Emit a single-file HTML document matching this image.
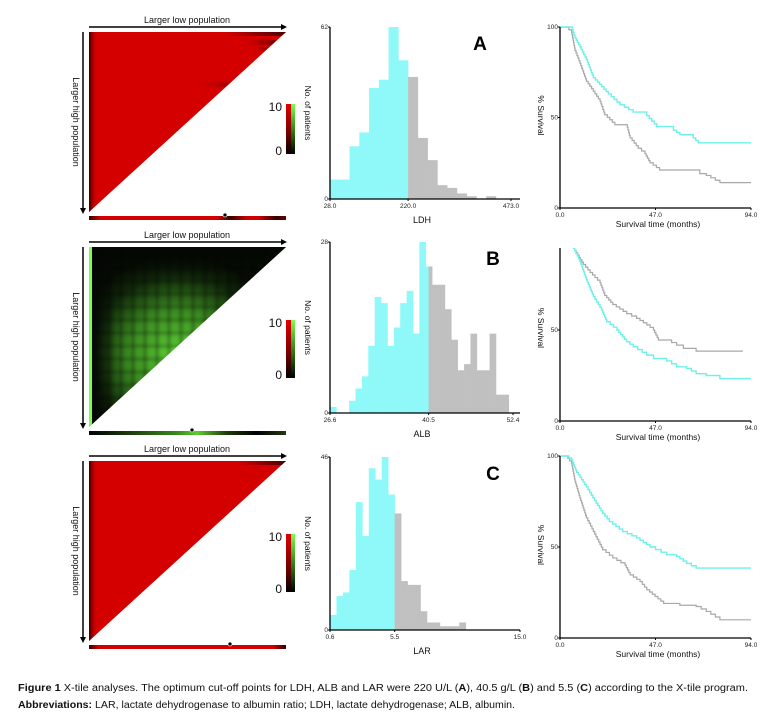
<!DOCTYPE html>
<html><head><meta charset="utf-8"><style>
body{margin:0;background:#fff;width:782px;height:719px;overflow:hidden}
svg{display:block;font-family:"Liberation Sans",sans-serif}
</style></head><body>
<svg id="fig" width="782" height="719" viewBox="0 0 782 719" xmlns="http://www.w3.org/2000/svg">
<defs>
 <linearGradient id="cbRed" x1="0" y1="0" x2="0" y2="1"><stop offset="0" stop-color="#e00000"/><stop offset="0.6" stop-color="#700000"/><stop offset="1" stop-color="#000"/></linearGradient>
 <linearGradient id="cbGreen" x1="0" y1="0" x2="0" y2="1"><stop offset="0" stop-color="#7cff4c"/><stop offset="0.6" stop-color="#2a6a10"/><stop offset="1" stop-color="#000"/></linearGradient>
 <linearGradient id="leftDark" x1="0" y1="0" x2="1" y2="0"><stop offset="0" stop-color="#200000" stop-opacity="0.9"/><stop offset="1" stop-color="#d40000" stop-opacity="0"/></linearGradient>
 <linearGradient id="topDarkA" x1="0" y1="0" x2="1" y2="0"><stop offset="0.3" stop-color="#300000" stop-opacity="0"/><stop offset="1" stop-color="#300000" stop-opacity="0.85"/></linearGradient>
 <linearGradient id="streak" x1="0" y1="0" x2="1" y2="0"><stop offset="0" stop-color="#300000" stop-opacity="0"/><stop offset="1" stop-color="#300000" stop-opacity="0.85"/></linearGradient>
 <radialGradient id="greenGlow" cx="0.45" cy="0.6" r="0.55"><stop offset="0" stop-color="#5ed236"/><stop offset="0.45" stop-color="#3a8a20"/><stop offset="0.8" stop-color="#10260a"/><stop offset="1" stop-color="#060d03"/></radialGradient>
 <linearGradient id="topDarkB" x1="0" y1="0" x2="0" y2="1"><stop offset="0" stop-color="#030602" stop-opacity="0.95"/><stop offset="1" stop-color="#030602" stop-opacity="0"/></linearGradient>
 <linearGradient id="leftDarkB" x1="0" y1="0" x2="1" y2="0"><stop offset="0" stop-color="#030602" stop-opacity="0.9"/><stop offset="1" stop-color="#030602" stop-opacity="0"/></linearGradient>
 <linearGradient id="barA" x1="0" y1="0" x2="1" y2="0"><stop offset="0" stop-color="#300"/><stop offset="0.06" stop-color="#d40000"/><stop offset="0.65" stop-color="#d40000"/><stop offset="0.72" stop-color="#300"/><stop offset="0.8" stop-color="#c00"/><stop offset="0.86" stop-color="#c00"/><stop offset="0.95" stop-color="#300"/><stop offset="1" stop-color="#600"/></linearGradient>
 <linearGradient id="barB" x1="0" y1="0" x2="1" y2="0"><stop offset="0" stop-color="#000"/><stop offset="0.2" stop-color="#1c3a0c"/><stop offset="0.45" stop-color="#3a8a1c"/><stop offset="0.55" stop-color="#5fcc30"/><stop offset="0.7" stop-color="#1c3a0c"/><stop offset="0.85" stop-color="#000"/><stop offset="1" stop-color="#203a10"/></linearGradient>
 <linearGradient id="barC" x1="0" y1="0" x2="1" y2="0"><stop offset="0" stop-color="#300"/><stop offset="0.05" stop-color="#d40000"/><stop offset="0.93" stop-color="#d40000"/><stop offset="1" stop-color="#300"/></linearGradient>
 <clipPath id="clipSB"><rect x="555" y="248" width="220" height="180"/></clipPath>
 <filter id="blur2"><feGaussianBlur stdDeviation="1.5"/></filter>
</defs>
<g id="heatmaps"></g>
<g id="hists"></g>
<g id="survs"></g>
<g font-size="10" fill="#111">
 <text x="18" y="691" textLength="730" lengthAdjust="spacingAndGlyphs"><tspan font-weight="bold">Figure 1</tspan> X-tile analyses. The optimum cut-off points for LDH, ALB and LAR were 220 U/L (<tspan font-weight="bold">A</tspan>), 40.5 g/L (<tspan font-weight="bold">B</tspan>) and 5.5 (<tspan font-weight="bold">C</tspan>) according to the X-tile program.</text>
 <text x="18" y="708" textLength="497" lengthAdjust="spacingAndGlyphs"><tspan font-weight="bold">Abbreviations:</tspan> LAR, lactate dehydrogenase to albumin ratio; LDH, lactate dehydrogenase; ALB, albumin.</text>
</g>
</svg>
<script>
// ---------- histogram data ----------
const histA_counts = [7,7,19,24,40,43,62,50,44,22,14,5,4,2,1,0,1,0];
const histA_start = 28, histA_width = 24, histA_cut = 220, histA_max = 62;
const histA_ticks = ["28.0","220.0","473.0"];
const histB_counts = [1,0,0,2,4,6,11,19,18,11,14,18,20,13,28,24,21,21,17,12,7,8,13,7,7,13,3,3];
const histB_start = 26.6, histB_width = 0.9, histB_cut = 40.5, histB_max = 28;
const histB_ticks = ["26.6","40.5","52.4"];
const histC_counts = [4,9,10,16,34,25,43,40,46,36,31,13,12,12,5,2,2,1,1,1,2];
const histC_start = 0.6, histC_width = 0.49, histC_cut = 5.5, histC_max = 46;
const histC_ticks = ["0.6","5.5","15.0"];

// ---------- survival data (months, % survival) ----------
const survA_lowT = [0,3,6,7.4,9.8,13,16.4,20.5,23.8,29.5,36,42.7,47.6,55.8,59,65.6,68,94];
const survA_lowS = [100,100,98.5,94,89,82,72,67,63,57,53,51,45,43,40.5,38.7,36,36];
const survA_highT = [0,3,5.7,7.4,9.8,13,16.4,19.7,22,27,32.8,34.5,38.5,41.8,44.3,49,67,68.8,72,78.7,94];
const survA_highS = [100,100,97,87,80,70,64.5,59,51.5,46,46,38.7,33,30,25,21,21,19,18,14,14];
const survB_lowT = [0,6.6,9.8,13,16.4,20.5,23,28,32.8,36,42.7,46,52.5,57.4,62.3,67,72,78.7,94];
const survB_lowS = [100,95,87.7,77.6,68.4,61,54.6,50,43.6,40.8,36.2,34.4,33,29.8,28.9,26,25,23.3,23.3];
const survB_highT = [0,6.6,11.5,14.8,19.7,22,26,32.8,37.7,42.7,46,48.4,52.5,57.4,60.7,67,90];
const survB_highS = [100,95,86,81.6,76,69,64,59,56.4,52.8,50,44.5,44.5,41.7,39.9,38.4,38.4];
const survC_lowT = [0,3,5.7,8.2,13,17,21,24.3,30.8,37.7,44.3,52.5,57.4,62.3,67,94];
const survC_lowS = [100,100,97.8,91,83,75.5,68.5,64,58.5,55,50,45.7,44.8,41,38.4,38.4];
const survC_highT = [0,3,5.7,7.4,9.8,13,16.4,21,26,32,34.5,39.4,42.7,46.8,51,59,67,72,78.7,94];
const survC_highS = [100,100,96,86,77,66,58.5,48.5,44,40,34.7,31,26.5,22.8,19,18,17.3,14.6,10,10];
const survTicksX = ["0.0","47.0","94.0"];
const survTicksY = ["0","50","100"];

const NS = "http://www.w3.org/2000/svg";
function mk(parent, tag, attrs){ const e=document.createElementNS(NS,tag); for(const k in attrs) e.setAttribute(k,attrs[k]); parent.appendChild(e); return e; }
function txt(parent, s, attrs){ const e=mk(parent,'text',attrs); e.textContent=s; return e; }

// ---------- heatmaps ----------
const hmRoot = document.getElementById('heatmaps');
const hmPanels = [
 {dy:0, kind:'A', cbTop:104, cbH:50},
 {dy:215, kind:'B', cbTop:320, cbH:58},
 {dy:429, kind:'C', cbTop:534, cbH:58}
];
hmPanels.forEach((p,i)=>{
 const g = mk(hmRoot,'g',{});
 
 
 const t=32+p.dy, b=212+p.dy, l=89, r=286;
 const tri = `${l},${t} ${r},${t} ${l},${b}`;
 const cid='triclip'+p.kind;
 const cp=mk(document.querySelector('defs'),'clipPath',{id:cid});
 mk(cp,'polygon',{points:tri});
 const inner=mk(g,'g',{'clip-path':`url(#${cid})`});
 if(p.kind==='B'){
  mk(inner,'rect',{x:l,y:t,width:r-l,height:b-t,fill:'url(#greenGlow)'});
  const pat=mk(inner,'g',{filter:'url(#blur2)'});
  for(let k=0;k<16;k++){ const x=l+8+k*12; mk(pat,'line',{x1:x,y1:t,x2:x,y2:b,stroke:'#050a02','stroke-width':3,'stroke-opacity':0.3}); }
  for(let k=0;k<14;k++){ const y=t+8+k*13; mk(pat,'line',{x1:l,y1:y,x2:r,y2:y,stroke:'#050a02','stroke-width':3,'stroke-opacity':0.25}); }
  mk(inner,'rect',{x:l,y:t,width:r-l,height:30,fill:'url(#topDarkB)'});
  mk(inner,'rect',{x:l+3,y:t,width:25,height:b-t,fill:'url(#leftDarkB)'});
  mk(inner,'rect',{x:l,y:t,width:3,height:b-t,fill:'#7cff4c'});
 } else {
  mk(inner,'rect',{x:l,y:t,width:r-l,height:b-t,fill:'#d40000'});
  mk(inner,'rect',{x:l,y:t,width:8,height:b-t,fill:'url(#leftDark)'});
  if(p.kind==='A'){
   mk(inner,'rect',{x:l+110,y:t,width:r-l-110,height:4,fill:'url(#topDarkA)'});
   mk(inner,'rect',{x:l+140,y:t+8,width:r-l-140,height:5,fill:'url(#topDarkA)','filter':'url(#blur2)'});
   mk(inner,'rect',{x:l+150,y:t+15,width:r-l-150,height:4,fill:'url(#topDarkA)','filter':'url(#blur2)'});
   mk(inner,'rect',{x:l+110,y:t+50,width:80,height:5,fill:'url(#streak)','filter':'url(#blur2)'});
  } else {
   mk(inner,'rect',{x:l+130,y:t,width:r-l-130,height:4,fill:'url(#topDarkA)'});
  }
 }
 // arrows
 mk(g,'line',{x1:l,y1:t-5,x2:r-1,y2:t-5,stroke:'#000','stroke-width':1.5});
 mk(g,'polygon',{points:`${r+1},${t-5} ${r-5},${t-8} ${r-5},${t-2}`,fill:'#000'});
 mk(g,'line',{x1:l-6,y1:t,x2:l-6,y2:b-1,stroke:'#000','stroke-width':1.5});
 mk(g,'polygon',{points:`${l-6},${b+2} ${l-9},${b-4} ${l-3},${b-4}`,fill:'#000'});
 const lt=txt(g,'Larger low population',{x:187,y:t-9,'font-size':9,'text-anchor':'middle',fill:'#111'});
  
 const lh=txt(g,'Larger high population',{x:0,y:0,'font-size':9,'text-anchor':'middle',fill:'#111',transform:`translate(73,${(t+b)/2}) rotate(90)`});
  
 // bottom bar
 const bar=mk(g,'rect',{x:l,y:b+4,width:r-l,height:4,fill:`url(#bar${p.kind})`});
  
 const dotX = p.kind==='A'?225:(p.kind==='B'?192:230);
 const dot=mk(g,'circle',{cx:dotX,cy:b+3,r:2,fill:'#000',stroke:'#fff','stroke-width':0.7});
  
 // colorbar
 const cb=mk(g,'g',{});
  
 mk(cb,'rect',{x:286,y:p.cbTop,width:5,height:p.cbH,fill:'url(#cbRed)'});
 mk(cb,'rect',{x:291,y:p.cbTop,width:4,height:p.cbH,fill:'url(#cbGreen)'});
 txt(cb,'10',{x:282,y:p.cbTop+7,'font-size':12,'text-anchor':'end',fill:'#111'});
 txt(cb,'0',{x:282,y:p.cbTop+p.cbH+1,'font-size':12,'text-anchor':'end',fill:'#111'});
});

// ---------- histograms ----------
const hRoot=document.getElementById('hists');
const hists=[
 {id:'a',counts:histA_counts,start:histA_start,w:histA_width,cut:histA_cut,max:histA_max,ticks:histA_ticks,xmin:28,xmax:473,px0:330,px1:511,top:27,base:199,label:'LDH',letter:'A',lx:480,ly:50},
 {id:'b',counts:histB_counts,start:histB_start,w:histB_width,cut:histB_cut,max:histB_max,ticks:histB_ticks,xmin:26.6,xmax:52.4,px0:330,px1:513,top:242,base:413,label:'ALB',letter:'B',lx:493,ly:265},
 {id:'c',counts:histC_counts,start:histC_start,w:histC_width,cut:histC_cut,max:histC_max,ticks:histC_ticks,xmin:0.6,xmax:15.0,px0:330,px1:520,top:457,base:630,label:'LAR',letter:'C',lx:493,ly:480}
];
hists.forEach(h=>{
 const g=mk(hRoot,'g',{});
  
 const xs=v=>h.px0+(v-h.xmin)/(h.xmax-h.xmin)*(h.px1-h.px0);
 const ys=c=>h.base-c/h.max*(h.base-h.top);
 h.counts.forEach((c,i)=>{
  if(c<=0) return;
  const a=h.start+i*h.w, b=a+h.w;
  const segs=[];
  if(b<=h.cut) segs.push([a,b,'#8ff8f8']); else if(a>=h.cut) segs.push([a,b,'#c0c0c0']);
  else { segs.push([a,h.cut,'#8ff8f8']); segs.push([h.cut,b,'#c0c0c0']); }
  segs.forEach(s=>{
   const r=mk(g,'rect',{x:xs(s[0]),y:ys(c),width:xs(s[1])-xs(s[0])+0.3,height:h.base-ys(c),fill:s[2]});
    
  });
 });
 mk(g,'line',{x1:h.px0,y1:h.top,x2:h.px0,y2:h.base,stroke:'#000','stroke-width':1.3});
 mk(g,'line',{x1:h.px0,y1:h.base,x2:520,y2:h.base,stroke:'#000','stroke-width':1.3});
 [[h.max,String(h.max)],[0,'0']].forEach(t=>{
  mk(g,'line',{x1:h.px0-2,y1:ys(t[0]),x2:h.px0,y2:ys(t[0]),stroke:'#000'});
  txt(g,t[1],{x:h.px0-2,y:ys(t[0])+2,'font-size':6.5,'text-anchor':'end',fill:'#222'});
 });
 const tv=[h.xmin,h.cut,h.xmax];
 tv.forEach((v,i)=>{
  mk(g,'line',{x1:xs(v),y1:h.base,x2:xs(v),y2:h.base+2,stroke:'#000'});
  txt(g,h.ticks[i],{x:xs(v),y:h.base+9,'font-size':6.5,'text-anchor':'middle',fill:'#222'});
 });
 const yl=txt(g,'No. of patients',{x:0,y:0,'font-size':8.5,'text-anchor':'middle',fill:'#111',transform:`translate(305,${(h.top+h.base)/2}) rotate(90)`});
  
 const xl=txt(g,h.label,{x:422,y:h.base+24,'font-size':9,'text-anchor':'middle',fill:'#111'});
  
 const pl=txt(g,h.letter,{x:h.lx,y:h.ly,'font-size':19,'font-weight':'bold','text-anchor':'middle',fill:'#000'});
  
});

// ---------- survival curves ----------
const sRoot=document.getElementById('survs');
const survs=[
 {id:'a',lowT:survA_lowT,lowS:survA_lowS,highT:survA_highT,highS:survA_highS,y100:27,y0:208,top:27,clip:null},
 {id:'b',lowT:survB_lowT,lowS:survB_lowS,highT:survB_highT,highS:survB_highS,y100:239,y0:421,top:248,clip:'url(#clipSB)'},
 {id:'c',lowT:survC_lowT,lowS:survC_lowS,highT:survC_highT,highS:survC_highS,y100:456,y0:638,top:456,clip:null}
];
survs.forEach(s=>{
 const g=mk(sRoot,'g',{});
  
 const xs=t=>560+t/94*(751-560);
 const ys=v=>s.y0-v/100*(s.y0-s.y100);
 const cg=mk(g,'g',{});
 if(s.clip) cg.setAttribute('clip-path',s.clip);
 // fine-grained KM-like staircase: small steps along linear segments between read points
 const km=(T,S)=>{
  let d=`M${xs(T[0])},${ys(S[0])}`;
  for(let i=1;i<T.length;i++){
   const x0=xs(T[i-1]),y0=ys(S[i-1]),x1=xs(T[i]),y1=ys(S[i]);
   if(Math.abs(y1-y0)<0.5){ d+=` H${x1}`; continue; }
   const n=Math.max(1,Math.round(Math.abs(y1-y0)/2.5));
   for(let k=1;k<=n;k++){ d+=` H${x0+(x1-x0)*k/n} V${y0+(y1-y0)*k/n}`; }
  }
  return d;
 };
 const pg=mk(cg,'path',{d:km(s.highT,s.highS),fill:'none',stroke:'#a8a8a8','stroke-width':1.2});
  
 const pc=mk(cg,'path',{d:km(s.lowT,s.lowS),fill:'none',stroke:'#6ff0ea','stroke-width':1.4});
  
 mk(g,'line',{x1:560,y1:s.top,x2:560,y2:s.y0,stroke:'#000','stroke-width':1.3});
 mk(g,'line',{x1:560,y1:s.y0,x2:751,y2:s.y0,stroke:'#000','stroke-width':1.3});
 [0,50,100].forEach((v,i)=>{
  if(ys(v)<s.top-1) return;
  mk(g,'line',{x1:558,y1:ys(v),x2:560,y2:ys(v),stroke:'#000'});
  txt(g,survTicksY[i],{x:558,y:ys(v)+2,'font-size':6.5,'text-anchor':'end',fill:'#222'});
 });
 [0,47,94].forEach((v,i)=>{
  mk(g,'line',{x1:xs(v),y1:s.y0,x2:xs(v),y2:s.y0+2,stroke:'#000'});
  txt(g,survTicksX[i],{x:xs(v),y:s.y0+9,'font-size':6.5,'text-anchor':'middle',fill:'#222'});
 });
 const yl=txt(g,'% Survival',{x:0,y:0,'font-size':8.5,'text-anchor':'middle',fill:'#111',transform:`translate(538,${ys(50)-2}) rotate(90)`});
  
 const xl=txt(g,'Survival time (months)',{x:658,y:s.y0+19,'font-size':8.5,'text-anchor':'middle',fill:'#111'});
  
});
</script>
</body></html>
